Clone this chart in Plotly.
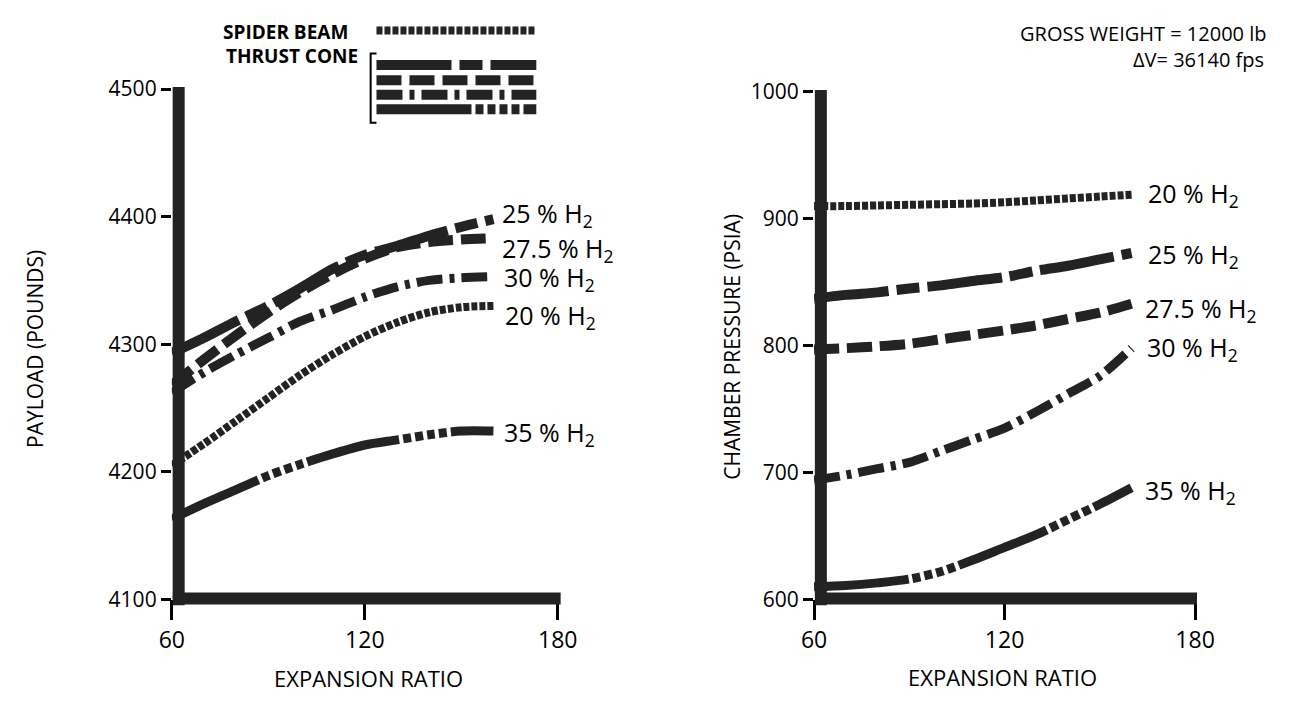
import plotly.graph_objects as go

W, H = 1294, 721

# ---------------- data ----------------
expansion = [60, 70, 80, 90, 100, 110, 120, 130, 140, 150, 160]

payload_20 = [4205, 4222, 4240, 4258, 4276, 4292, 4306, 4317, 4325, 4329, 4330]
payload_25 = [4293, 4305, 4318, 4330, 4344, 4359, 4370, 4377, 4385, 4392, 4398]
payload_275 = [4268, 4288, 4307, 4325, 4341, 4355, 4367, 4376, 4380, 4382, 4383]
payload_30 = [4262, 4278, 4292, 4305, 4318, 4327, 4337, 4345, 4350, 4352, 4353]
payload_35 = [4163, 4175, 4186, 4197, 4206, 4214, 4221, 4225, 4229, 4232, 4232]

pressure_20 = [910, 910, 910.5, 911, 911.5, 912, 913, 914.5, 916, 917.5, 919]
pressure_25 = [837, 840, 842, 845, 847.5, 851, 854, 859, 863, 868, 873]
pressure_275 = [797, 798, 799.5, 801.5, 805, 808.5, 812, 816, 821, 826, 833]
pressure_30 = [694, 698, 703, 708, 717, 726, 735, 748, 762, 776, 798]
pressure_35 = [610, 611, 613, 616, 622, 631, 641, 651, 663, 675, 688]

series_names = ["20 % H<sub>2</sub>", "25 % H<sub>2</sub>", "27.5 % H<sub>2</sub>",
                "30 % H<sub>2</sub>", "35 % H<sub>2</sub>"]

x_ticks = [60, 120, 180]
payload_ticks = [4100, 4200, 4300, 4400, 4500]
pressure_ticks = [600, 700, 800, 900, 1000]

# ---------------- styles ----------------
INK = "#232323"
FONT = "Open Sans"
dashes = {
    "20": "6px,2px",
    "25": "75px,8px,23px,8px",
    "27.5": "25px,8px",
    "30": "26px,7px,5px,7px",
    "35": "95px,4px,8px,4px,8px,4px,8px,4px,8px,4px",
}
widths = {"20": 8, "25": 10, "27.5": 10, "30": 9, "35": 9}
keys = ["20", "25", "27.5", "30", "35"]

left_sets = [payload_20, payload_25, payload_275, payload_30, payload_35]
right_sets = [pressure_20, pressure_25, pressure_275, pressure_30, pressure_35]


def px(x):
    return x / W


def py(y):
    return 1 - y / H


fig = go.Figure()

for k, ys in zip(keys, left_sets):
    fig.add_trace(go.Scatter(x=expansion, y=ys, mode="lines", xaxis="x", yaxis="y",
                             line=dict(color=INK, width=widths[k], dash=dashes[k],
                                       shape="spline", smoothing=0.8),
                             showlegend=False, hoverinfo="skip"))
for k, ys in zip(keys, right_sets):
    fig.add_trace(go.Scatter(x=expansion, y=ys, mode="lines", xaxis="x2", yaxis="y2",
                             line=dict(color=INK, width=widths[k], dash=dashes[k],
                                       shape="spline", smoothing=0.8),
                             showlegend=False, hoverinfo="skip"))


def note(x, y, text, size, xanchor="center", angle=0):
    return dict(x=px(x), y=py(y), xref="paper", yref="paper", text=text, textangle=angle,
                showarrow=False, xanchor=xanchor, yanchor="middle",
                font=dict(size=size, color="black", family=FONT))


annotations = []
# curve end labels (pixel position of the label's left edge / text middle)
left_label_pos = {"25": (500, 208), "27.5": (500, 244), "30": (502, 274),
                  "20": (503, 314), "35": (502, 435)}
right_label_pos = {"20": (1163, 187), "25": (1163, 250), "27.5": (1160, 306),
                   "30": (1162, 347), "35": (1160, 496)}
for k, name in zip(keys, series_names):
    lx, ly = left_label_pos[k]
    annotations.append(note(lx, ly, name, 25, xanchor="left"))
    rx, ry = right_label_pos[k]
    annotations.append(note(rx, ry, name, 25, xanchor="left"))

annotations += [
    note(22, 347, "PAYLOAD (POUNDS)", 21, angle=-90),
    note(737, 345, "CHAMBER PRESSURE (PSIA)", 21, angle=-90),
    note(365, 690, "EXPANSION RATIO", 22),
    note(1015, 689, "EXPANSION RATIO", 22),
    note(1289, 19, "GROSS WEIGHT = 12000 lb", 20, xanchor="right"),
    note(1286, 46, "ΔV= 36140 fps", 20, xanchor="right"),
    note(346, 18, "<b>SPIDER BEAM</b>", 19, xanchor="right"),
    note(356, 43, "<b>THRUST CONE</b>", 19, xanchor="right"),
]

shapes = []
# heavy axis lines
for (xv, y0, y1) in [(170, 75, 614), (829, 78, 614)]:
    shapes.append(dict(type="line", xref="paper", yref="paper", x0=px(xv), x1=px(xv),
                       y0=py(y0), y1=py(y1), line=dict(color=INK, width=12)))
for (yv, x0, x1) in [(607, 164, 562), (607, 823, 1215)]:
    shapes.append(dict(type="line", xref="paper", yref="paper", x0=px(x0), x1=px(x1),
                       y0=py(yv), y1=py(yv), line=dict(color=INK, width=12)))

# legend samples
legend_rows = [(16, "20"), (52, "25"), (68, "27.5"), (83, "30"), (98, "35")]
for yv, k in legend_rows:
    shapes.append(dict(type="line", xref="paper", yref="paper", x0=px(373), x1=px(537),
                       y0=py(yv), y1=py(yv),
                       line=dict(color=INK, width=10 if k != "20" else 8, dash=dashes[k])))
# bracket
shapes.append(dict(type="path", xref="paper", yref="paper",
                   path=f"M {px(373)} {py(40)} L {px(367)} {py(40)} L {px(367)} {py(112)} L {px(373)} {py(112)}",
                   line=dict(color="black", width=2)))

axis_common = dict(showgrid=False, zeroline=False, showline=False, ticks="outside",
                   tickcolor="black", tickwidth=3, color="black")

fig.update_layout(
    width=W, height=H, margin=dict(l=0, r=0, t=0, b=0),
    paper_bgcolor="white", plot_bgcolor="white",
    font=dict(family=FONT, color="black"),
    xaxis=dict(domain=[px(163), px(559)], range=[60, 180], tickvals=x_ticks, ticklen=20,
               tickfont=dict(size=23), anchor="y", **axis_common),
    yaxis=dict(domain=[py(608), py(77)], range=[4100, 4500], tickvals=payload_ticks,
               ticklen=10, tickfont=dict(size=21), anchor="x", **axis_common),
    xaxis2=dict(domain=[px(822), px(1213)], range=[60, 180], tickvals=x_ticks, ticklen=20,
                tickfont=dict(size=23), anchor="y2", **axis_common),
    yaxis2=dict(domain=[py(608), py(80)], range=[600, 1000], tickvals=pressure_ticks,
                ticklen=10, tickfont=dict(size=21), anchor="x2", **axis_common),
    annotations=annotations,
    shapes=shapes,
)

fig.write_html("out.html")
